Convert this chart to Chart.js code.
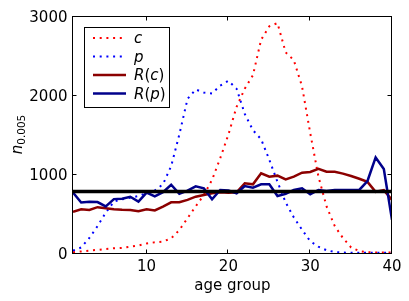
<!DOCTYPE html>
<html>
<head>
<meta charset="utf-8">
<script src="https://cdn.jsdelivr.net/npm/chart.js@4"></script>
<style>
  body { margin: 0; background: #fff; }
  canvas { display: block; }
</style>
</head>
<body>
<canvas id="chart" width="409" height="301"></canvas>
<script>
// data
const ageGroups = [1, 2, 3, 4, 5, 6, 7, 8, 9, 10, 11, 12, 13, 14, 15, 16, 17, 18, 19, 20,
  21, 22, 23, 24, 25, 26, 27, 28, 29, 30, 31, 32, 33, 34, 35, 36, 37, 38, 39, 40]
const cValues = [10, 20, 30, 40, 50, 60, 65, 80, 95, 120, 135, 145, 185, 290, 440, 590, 735, 925, 1200, 1500,
  1850, 2080, 2250, 2700, 2870, 2910, 2540, 2440, 2110, 1520, 970, 590, 340, 190, 70, 25, 10, 5, 5, 5]
const pValues = [30, 70, 190, 340, 510, 650, 680, 700, 720, 760, 790, 870, 1100, 1500, 1950, 2070, 2030, 2020, 2120, 2180,
  2080, 1760, 1555, 1440, 1180, 900, 640, 450, 295, 150, 80, 35, 12, 5, 3, 2, 2, 2, 2, 2]
const rcValues = [520, 554, 545, 580, 567, 554, 546, 545, 528, 554, 538, 588, 642, 642, 672, 713, 735, 756, 768, 763,
  769, 882, 869, 1008, 966, 979, 932, 966, 1016, 1025, 1065, 1029, 1027, 1005, 975, 940, 900, 775, 795, 672]
const rpValues = [765, 640, 648, 645, 590, 682, 686, 712, 650, 765, 716, 770, 864, 750, 790, 843, 818, 680, 797, 790,
  756, 848, 827, 869, 869, 722, 748, 798, 819, 743, 798, 785, 798, 798, 798, 798, 911, 1210, 1063, 420]
const baseline = 780
const xTicks = [10, 20, 30, 40]
const yTicks = [0, 1000, 2000, 3000]

const FONT = '"DejaVu Sans", sans-serif'

function toPoints(values) {
  return values.map((v, i) => ({ x: ageGroups[i], y: v }))
}

// frame, inward ticks, tick labels, axis titles and legend, matplotlib style
const decorations = {
  id: 'decorations',
  afterDatasetsDraw(chart) {
    const ctx = chart.ctx
    const area = chart.chartArea
    const xs = chart.scales.x
    const ys = chart.scales.y
    const L = Math.round(area.left) - 0.5
    const R = Math.round(area.right) - 0.5
    const T = Math.round(area.top) + 0.5
    const B = Math.round(area.bottom) + 0.5

    ctx.save()
    ctx.strokeStyle = '#000'
    ctx.lineWidth = 1
    ctx.strokeRect(L, T, R - L, B - T)

    ctx.beginPath()
    xTicks.forEach(v => {
      const px = Math.round(xs.getPixelForValue(v)) - 0.5
      ctx.moveTo(px, B); ctx.lineTo(px, B - 4)
      ctx.moveTo(px, T); ctx.lineTo(px, T + 4)
    })
    yTicks.forEach(v => {
      const py = Math.round(ys.getPixelForValue(v)) + 0.5
      ctx.moveTo(L, py); ctx.lineTo(L + 4, py)
      ctx.moveTo(R, py); ctx.lineTo(R - 4, py)
    })
    ctx.stroke()

    ctx.fillStyle = '#000'
    ctx.font = '15px ' + FONT
    ctx.textBaseline = 'alphabetic'
    ctx.textAlign = 'center'
    xTicks.forEach(v => ctx.fillText(String(v), xs.getPixelForValue(v), 271))
    ctx.textAlign = 'right'
    yTicks.forEach(v => ctx.fillText(String(v), 67.5, ys.getPixelForValue(v) + 5.5))

    ctx.textAlign = 'center'
    ctx.fillText('age group', (area.left + area.right) / 2, 289.5)

    // y title: italic n with subscript 0.005
    ctx.save()
    ctx.translate(22, (area.top + area.bottom) / 2)
    ctx.rotate(-Math.PI / 2)
    ctx.textAlign = 'left'
    ctx.font = 'oblique 15px ' + FONT
    const nW = ctx.measureText('n').width
    ctx.font = '10.5px ' + FONT
    const sW = ctx.measureText('0.005').width
    const x0 = -(nW + sW) / 2
    ctx.font = 'oblique 15px ' + FONT
    ctx.fillText('n', x0, 0)
    ctx.font = '10.5px ' + FONT
    ctx.fillText('0.005', x0 + nW, 3)
    ctx.restore()

    // legend
    ctx.fillStyle = '#fff'
    ctx.fillRect(84.5, 27.5, 85, 80)
    ctx.strokeStyle = '#000'
    ctx.strokeRect(84.5, 27.5, 85, 80)
    const rows = [38, 56.5, 75, 93.5]
    const entries = [
      { ds: 0, parts: [['c', true]] },
      { ds: 1, parts: [['p', true]] },
      { ds: 2, parts: [['R', true], ['(', false], ['c', true], [')', false]] },
      { ds: 3, parts: [['R', true], ['(', false], ['p', true], [')', false]] }
    ]
    entries.forEach((e, i) => {
      const d = chart.data.datasets[e.ds]
      const y = rows[i]
      ctx.save()
      ctx.strokeStyle = d.borderColor
      ctx.lineWidth = d.borderWidth
      ctx.setLineDash(d.borderDash || [])
      ctx.beginPath()
      ctx.moveTo(93, y); ctx.lineTo(126, y)
      ctx.stroke()
      ctx.restore()
      let tx = 134
      ctx.fillStyle = '#000'
      ctx.textAlign = 'left'
      e.parts.forEach(([s, it]) => {
        ctx.font = (it ? 'oblique ' : '') + '15px ' + FONT
        ctx.fillText(s, tx, y + 5)
        tx += ctx.measureText(s).width
      })
    })
    ctx.restore()
  }
}

new Chart(document.getElementById('chart'), {
  type: 'line',
  data: {
    datasets: [
      { label: 'c', data: toPoints(cValues), borderColor: '#ff0000', borderWidth: 2, borderDash: [2, 4.7], order: 5 },
      { label: 'p', data: toPoints(pValues), borderColor: '#0000ff', borderWidth: 2, borderDash: [2, 4.7], order: 4 },
      { label: 'R(c)', data: toPoints(rcValues), borderColor: '#8b0000', borderWidth: 2.5, order: 3 },
      { label: 'R(p)', data: toPoints(rpValues), borderColor: '#00008b', borderWidth: 2.5, order: 2 },
      {
        label: 'baseline',
        data: [{ x: ageGroups[0], y: baseline }, { x: ageGroups[ageGroups.length - 1], y: baseline }],
        borderColor: '#000', borderWidth: 3.5, order: 1
      }
    ]
  },
  options: {
    responsive: false,
    animation: false,
    devicePixelRatio: 1,
    layout: { padding: { top: 16, right: 17, left: 0, bottom: 0 } },
    elements: { point: { radius: 0 }, line: { tension: 0, fill: false, borderCapStyle: 'butt' } },
    plugins: { legend: { display: false }, tooltip: { enabled: false } },
    scales: {
      x: {
        type: 'linear', min: 1, max: 40,
        grid: { display: false }, border: { display: false },
        ticks: { display: false },
        afterFit(scale) { scale.height = 48 }
      },
      y: {
        min: 0, max: 3000,
        grid: { display: false }, border: { display: false },
        ticks: { display: false },
        afterFit(scale) { scale.width = 73 }
      }
    }
  },
  plugins: [decorations]
})
</script>
</body>
</html>
